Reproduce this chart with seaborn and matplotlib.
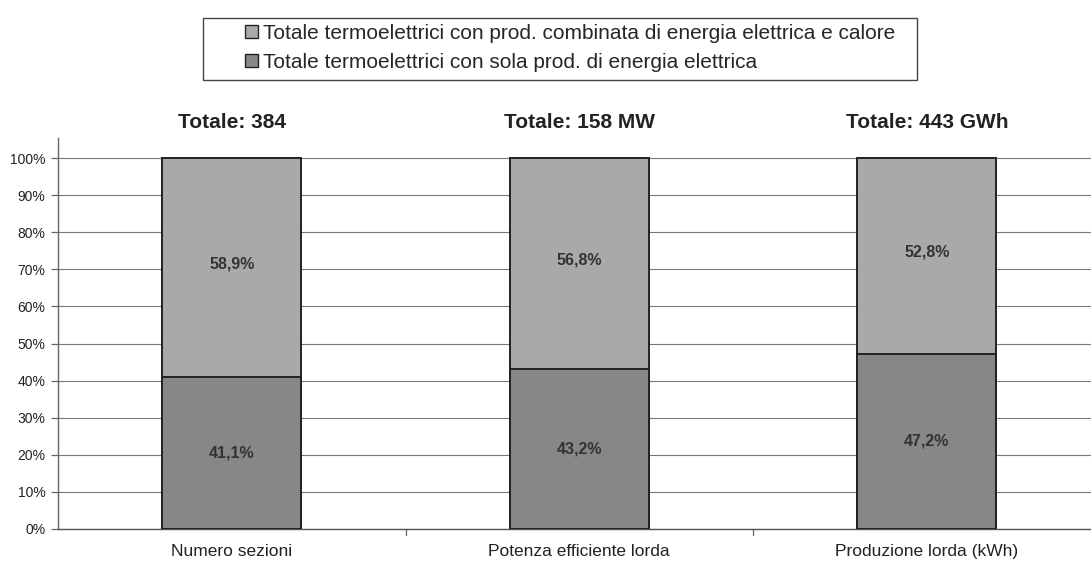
import matplotlib
matplotlib.use("Agg")
import matplotlib.pyplot as plt
import seaborn as sns
import pandas as pd
from matplotlib.patches import Patch, Rectangle

categories = ["Numero sezioni", "Potenza efficiente lorda", "Produzione lorda (kWh)"]
totals = ["Totale: 384", "Totale: 158 MW", "Totale: 443 GWh"]
sola = [41.1, 43.2, 47.2]
combinata = [58.9, 56.8, 52.8]
series_names = ["Totale termoelettrici con prod. combinata di energia elettrica e calore",
                "Totale termoelettrici con sola prod. di energia elettrica"]
yticks = [0, 10, 20, 30, 40, 50, 60, 70, 80, 90, 100]

sns.set_theme(style="white")
plt.rcParams['font.family'] = ['Liberation Sans', 'DejaVu Sans']

df = pd.DataFrame({"cat": categories, "sola": sola, "comb": combinata})
df["stack"] = df["sola"] + df["comb"]

W, H = 1091, 565
fig = plt.figure(figsize=(W / 100, H / 100), dpi=100)
ax = fig.add_axes([58/W, 36/H, 1042.5/W, 391/H])

c_light = "#a9a9a9"
c_dark = "#878787"
sns.barplot(data=df, x="cat", y="stack", color=c_light, width=0.4, ax=ax,
            edgecolor="#222222", linewidth=1.4, saturation=1, zorder=3)
sns.barplot(data=df, x="cat", y="sola", color=c_dark, width=0.4, ax=ax,
            edgecolor="#222222", linewidth=1.4, saturation=1, zorder=3)

ax.set_ylim(0, 105.4)
ax.set_xlim(-0.5, 2.5)
ax.set_yticks(yticks)
ax.set_yticklabels([f"{v}%" for v in yticks], fontsize=10, color="#222222")
for v in yticks:
    ax.axhline(v, color="#777777", linewidth=0.8, zorder=1)
ax.set_xticks([0, 1, 2])
ax.set_xticklabels(categories, fontsize=12.5, color="#222222")
ax.tick_params(axis="x", length=0, pad=11)
ax.tick_params(axis="y", length=5, width=0.9, color="#666666", left=True, pad=4)
for b in [0.5, 1.5]:
    ax.plot([b, b], [0, -1.6], color="#666666", linewidth=0.9, clip_on=False)
ax.set_xlabel("")
ax.set_ylabel("")
for s in ["top", "right"]:
    ax.spines[s].set_visible(False)
ax.spines["left"].set_color("#666666")
ax.spines["bottom"].set_color("#555555")
ax.spines["left"].set_linewidth(1.0)
ax.spines["bottom"].set_linewidth(1.0)

for i in range(len(categories)):
    s = sola[i]
    c = combinata[i]
    ax.text(i, s / 2, f"{s:.1f}%".replace(".", ","), ha="center", va="center",
            fontsize=11.5, fontweight="bold", color="#333333", zorder=4)
    ax.text(i, s + c / 2 + 1, f"{c:.1f}%".replace(".", ","), ha="center", va="center",
            fontsize=11.5, fontweight="bold", color="#333333", zorder=4)
    ax.text(i, 109.5, totals[i], ha="center", va="center", fontsize=15,
            fontweight="bold", color="#222222")

handles = [Patch(facecolor=c_light, edgecolor="#222222", linewidth=1.0),
           Patch(facecolor=c_dark, edgecolor="#222222", linewidth=1.0)]
leg = fig.legend(handles, series_names, loc="center", bbox_to_anchor=(570/W, 1 - 48/H),
                 frameon=False, fontsize=15, handlelength=0.6, handleheight=0.6,
                 handletextpad=0.25, labelspacing=0.5, borderpad=0.35)
fig.patches.append(Rectangle((203/W, 1 - 80/H), (917 - 203)/W, 62/H, transform=fig.transFigure,
                             fill=False, edgecolor="#444444", linewidth=1.0))

fig.savefig("out.png", dpi=100)
